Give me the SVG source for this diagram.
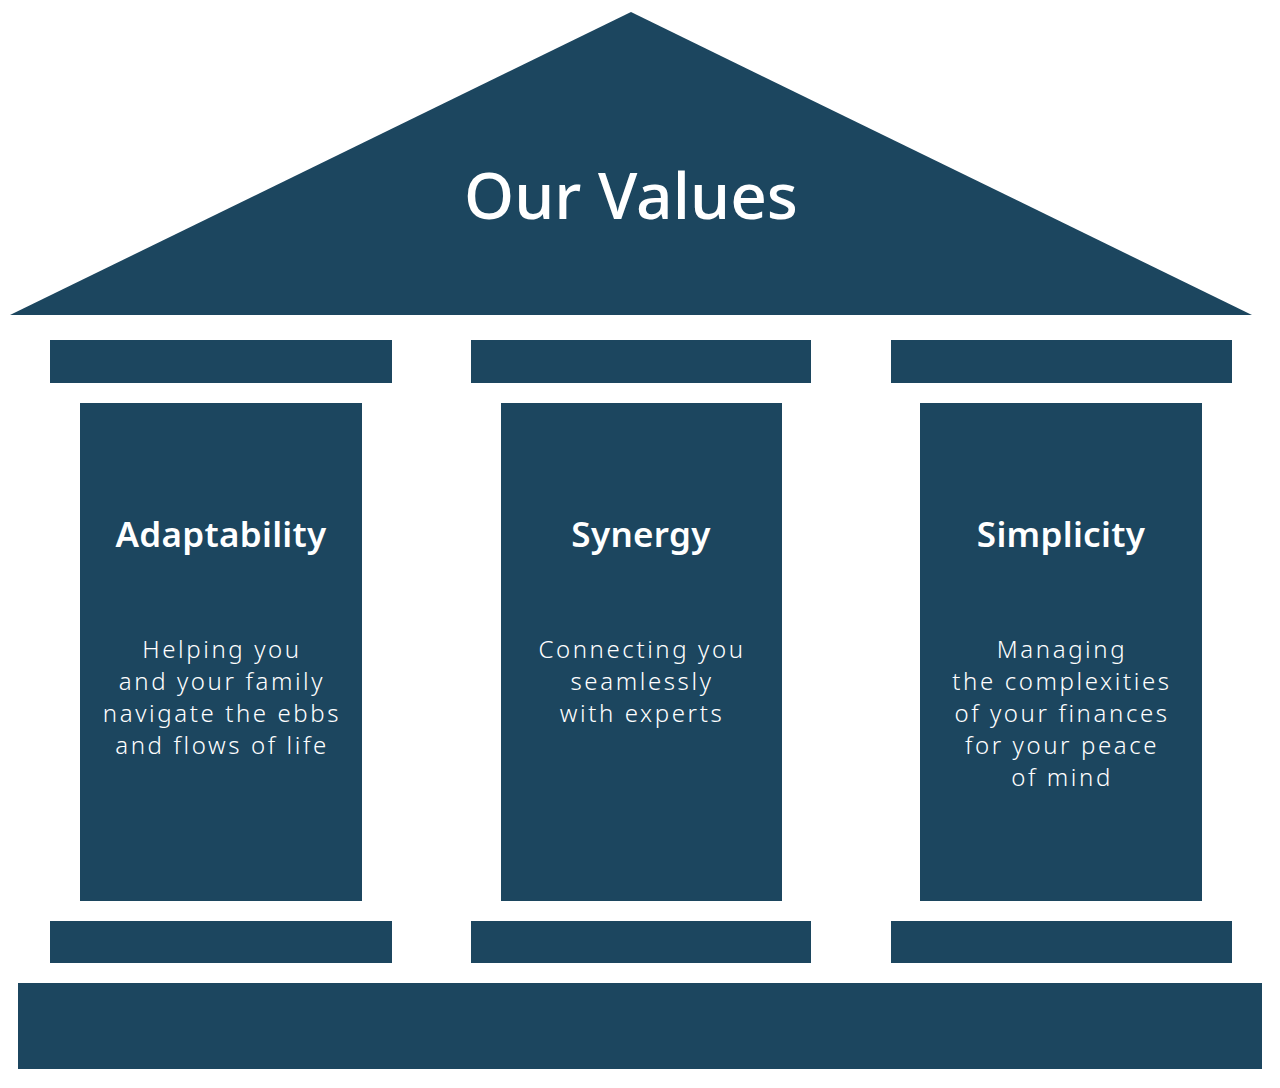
<svg xmlns="http://www.w3.org/2000/svg" width="1280" height="1088" viewBox="0 0 1280 1088">
<style>
.f{fill:#1c465f}
.t{fill:#fff;font-family:"Noto Sans","Liberation Sans",sans-serif;text-anchor:middle}
.title{font-size:64px;font-weight:500}
.h{font-size:35px;font-weight:600;letter-spacing:0.3px}
.b{font-size:24px;font-weight:300;letter-spacing:2.6px}
</style>
<rect width="1280" height="1088" fill="#fff"/>
<g id="roof"><polygon class="f" points="631,12 1252,315 10,315"/><text class="t title" x="631" y="219">Our Values</text></g>
<g id="pillar-adaptability">
<rect class="f" x="50" y="340" width="342" height="43"/>
<rect class="f" x="80" y="403" width="282" height="498"/>
<rect class="f" x="50" y="921" width="342" height="42"/>
<text class="t h" x="221" y="547">Adaptability</text>
<text class="t b" x="222" y="658">Helping you</text>
<text class="t b" x="222" y="690">and your family</text>
<text class="t b" x="222" y="722">navigate the ebbs</text>
<text class="t b" x="222" y="754">and flows of life</text>
</g>
<g id="pillar-synergy">
<rect class="f" x="471" y="340" width="340" height="43"/>
<rect class="f" x="501" y="403" width="281" height="498"/>
<rect class="f" x="471" y="921" width="340" height="42"/>
<text class="t h" x="641" y="547">Synergy</text>
<text class="t b" x="642" y="658">Connecting you</text>
<text class="t b" x="642" y="690">seamlessly</text>
<text class="t b" x="642" y="722">with experts</text>
</g>
<g id="pillar-simplicity">
<rect class="f" x="891" y="340" width="341" height="43"/>
<rect class="f" x="920" y="403" width="282" height="498"/>
<rect class="f" x="891" y="921" width="341" height="42"/>
<text class="t h" x="1061" y="547">Simplicity</text>
<text class="t b" x="1062" y="658">Managing</text>
<text class="t b" x="1062" y="690">the complexities</text>
<text class="t b" x="1062" y="722">of your finances</text>
<text class="t b" x="1062" y="754">for your peace</text>
<text class="t b" x="1062" y="786">of mind</text>
</g>
<g id="base"><rect class="f" x="18" y="983" width="1244" height="86"/></g>
<g id="connectors"/>
</svg>
